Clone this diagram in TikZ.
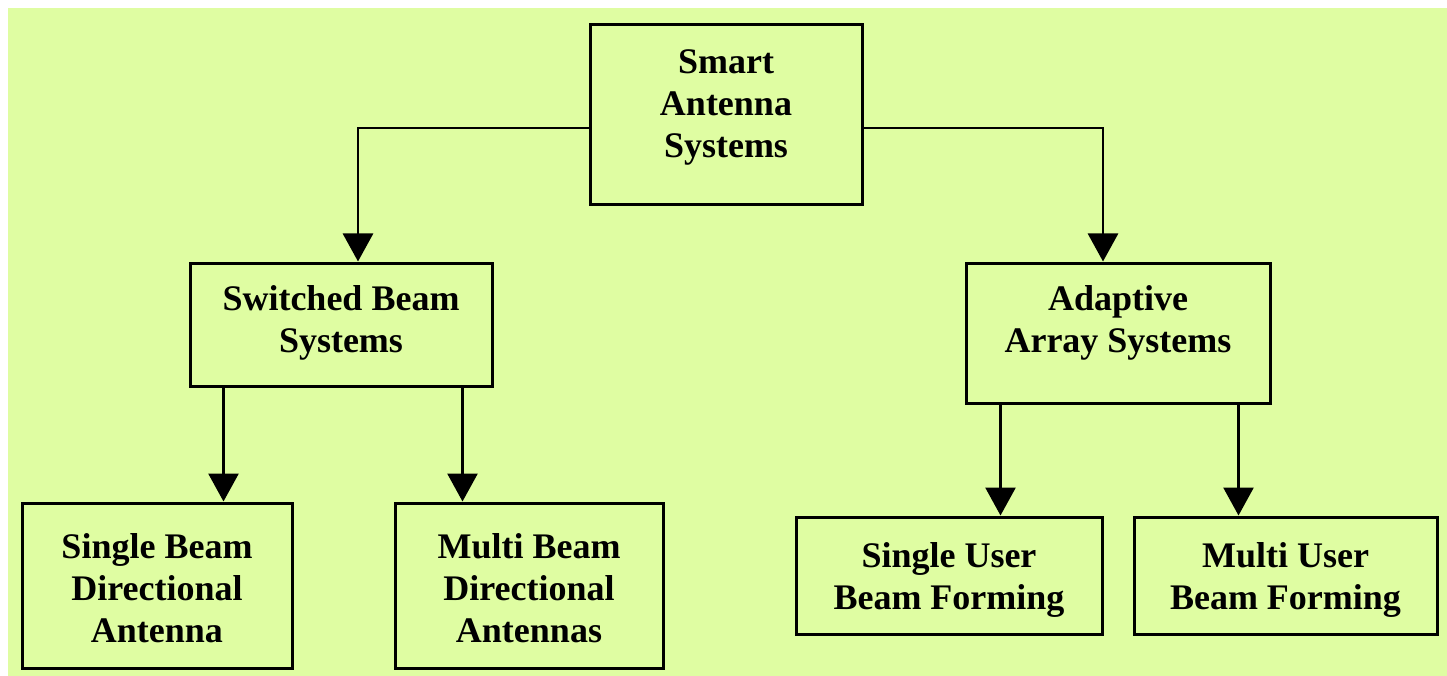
\documentclass[tikz,border=0pt]{standalone}
\usepackage{fontspec}
\setmainfont{Liberation Serif}
\usetikzlibrary{arrows.meta,calc}
\definecolor{bggreen}{RGB}{223,253,162}
\begin{document}
\begin{tikzpicture}[x=1pt,y=-1pt,
  box/.style={draw=black,line width=3pt,fill=bggreen,inner sep=0pt},
  lbl/.style={align=center,inner sep=0pt,font=\fontsize{36}{42}\selectfont\bfseries},
  arr/.style={line width=2.8pt,-{Triangle[width=30pt,length=28pt]}}]
\useasboundingbox (0,0) rectangle (1447,676);
\fill[bggreen] (8,8) rectangle (1447,676);
% boxes
\node[box,minimum width=272pt,minimum height=180pt] (top) at (726,115) {};
\node[box,minimum width=302pt,minimum height=123pt] (sw) at (341,324.5) {};
\node[box,minimum width=304pt,minimum height=140pt] (ad) at (1118,333) {};
\node[box,minimum width=270pt,minimum height=165pt] (sbd) at (157,585.5) {};
\node[box,minimum width=268pt,minimum height=165pt] (mbd) at (529,585.5) {};
\node[box,minimum width=306pt,minimum height=117pt] (su) at (949,575.5) {};
\node[box,minimum width=303pt,minimum height=117pt] (mu) at (1285.5,575.5) {};
% texts
\node[lbl] (topt) at (726,107) {Smart\\Antenna\\Systems};
\node[lbl] (swt) at (341,323) {Switched Beam\\Systems};
\node[lbl] (adt) at (1118,323) {Adaptive\\Array Systems};
\node[lbl] (sbdt) at (157,588) {Single Beam\\Directional\\Antenna};
\node[lbl] (mbdt) at (529,588) {Multi Beam\\Directional\\Antennas};
\node[lbl] (sut) at (949,580) {Single User\\Beam Forming};
\node[lbl] (mut) at (1285.5,580) {Multi User\\Beam Forming};
% connectors
\coordinate (swin) at ($(sw.north)+(17,0)$);
\coordinate (adin) at ($(ad.north)+(-15,0)$);
\draw[arr] ($(top.west)+(0,13)$) -| (swin);
\draw[arr] ($(top.east)+(0,13)$) -| (adin);
\coordinate (sw1) at ($(sw.south west)+(35,0)$);
\coordinate (sw2) at ($(sw.south east)+(-31,0)$);
\coordinate (ad1) at ($(ad.south west)+(36,0)$);
\coordinate (ad2) at ($(ad.south east)+(-33,0)$);
\draw[arr] (sw1) -- (sw1 |- sbd.north);
\draw[arr] (sw2) -- (sw2 |- mbd.north);
\draw[arr] (ad1) -- (ad1 |- su.north);
\draw[arr] (ad2) -- (ad2 |- mu.north);
\end{tikzpicture}
\end{document}
